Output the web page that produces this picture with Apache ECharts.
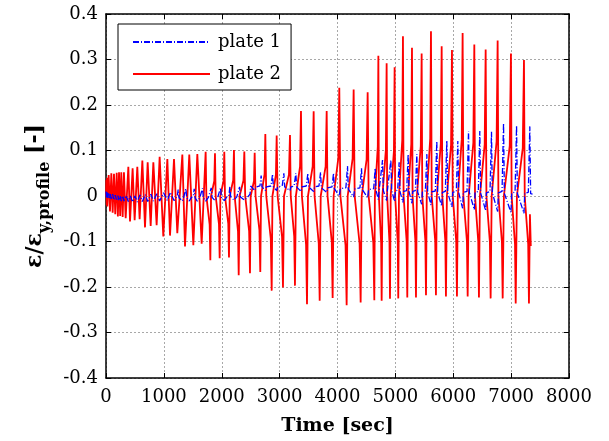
<!DOCTYPE html>
<html><head><meta charset="utf-8">
<script src="https://cdn.jsdelivr.net/npm/echarts@6/dist/echarts.min.js"></script>
<style>html,body{margin:0;padding:0;background:#fff}#c{width:609px;height:441px}</style>
</head><body><div id="c"></div>
<script>
const xTicks = [0,1000,2000,3000,4000,5000,6000,7000,8000];
const yTicks = [-0.4,-0.3,-0.2,-0.1,0,0.1,0.2,0.3,0.4];
const seriesNames = ['plate 1','plate 2'];

// plate 1 (blue, dash-dot): [time s, strain ratio]
const plate1 = [
[0,0.010],[10,-0.004],[20,0.008],[30,-0.006],[45,0.006],[60,-0.006],[75,0.004],[92,-0.008],[115,0.004],[138,-0.009],[160,0.002],[185,-0.010],[205,0.001],[225,-0.010],[245,0.0],[264,-0.011],[288,0.0],[310,-0.011],[345,0.001],[386,-0.012],[420,0.000],[460,-0.013],[500,0.000],[541,-0.013],[586,0.002],[628,-0.012],[679,0.003],[720,-0.012],[777,0.004],[818,-0.011],[880,0.005],[927,-0.011],[995,0.007],[1060,-0.010],[1111,0.008],[1175,-0.010],
[1232,0.000],[1247,0.014],[1262,-0.004],[1319,-0.011],[1340,-0.004],[1365,0.000],[1380,0.016],[1395,-0.004],[1439,-0.011],[1470,-0.004],[1509,0.000],[1524,0.016],[1539,-0.004],[1578,-0.011],[1620,-0.004],[1653,0.000],[1668,0.017],[1683,-0.004],[1722,-0.011],[1770,-0.003],[1803,0.000],[1818,0.018],[1833,-0.003],[1883,-0.010],[1930,-0.003],[1964,0.001],[1979,0.018],[1994,-0.003],[2044,-0.010],[2090,-0.002],[2125,0.002],[2140,0.020],[2155,-0.002],[2211,-0.009],[2260,-0.002],[2293,0.002],[2308,0.020],[2323,-0.002],[2390,-0.009],[2450,-0.002],[2488,0.004],[2500,0.022],[2515,0.018],[2569,0.012],[2600,0.020],
[2660,0.022],[2681,0.045],[2695,0.020],[2753,0.012],[2770,0.020],[2850,0.022],[2878,0.048],[2892,0.020],[2949,0.012],[2965,0.020],[3045,0.022],[3073,0.050],[3087,0.020],[3179,0.012],[3195,0.020],[3250,0.022],[3280,0.050],[3294,0.020],[3369,0.010],[3385,0.020],[3460,0.022],[3488,0.050],[3502,0.020],[3588,0.010],[3604,0.020],[3680,0.022],[3707,0.052],[3721,0.018],[3813,0.008],[3829,0.018],[3905,0.020],[3931,0.050],[3945,0.016],[4031,0.000],[4047,0.016],[4145,0.018],[4173,0.066],[4187,0.015],[4279,-0.002],[4295,0.015],[4388,0.018],[4415,0.061],[4429,0.014],[4521,-0.004],[4537,0.014],[4625,0.016],[4651,0.061],[4665,0.013],[4706,-0.008],[4720,0.013],[4752,0.015],[4778,0.079],[4792,0.012],[4849,-0.010],[4862,0.012],[4896,0.014],[4922,0.079],[4936,0.012],[4987,-0.012],[5000,0.011],[5040,0.013],[5065,0.074],[5079,0.010],[5131,-0.014],[5144,0.010],[5195,0.012],[5221,0.092],[5235,0.010],[5287,-0.016],[5300,0.010],[5345,0.012],[5371,0.092],[5385,0.009],[5454,-0.018],[5467,0.009],[5518,0.011],[5544,0.092],[5558,0.009],[5615,-0.020],[5628,0.009],[5690,0.011],[5716,0.121],[5730,0.008],[5800,-0.022],[5813,0.008],[5863,0.010],[5889,0.121],[5903,0.008],[5978,-0.024],[5991,0.008],[6053,0.010],[6079,0.121],[6093,0.008],[6162,-0.027],[6175,0.008],[6238,0.010],[6264,0.143],[6278,0.008],[6364,-0.030],[6377,0.008],[6433,0.010],[6459,0.143],[6473,0.007],[6560,-0.032],[6573,0.007],[6635,0.010],[6661,0.141],[6675,0.007],[6767,-0.034],[6780,0.007],[6843,0.010],[6869,0.160],[6883,0.006],[6997,-0.036],[7010,0.006],[7068,0.009],[7094,0.155],[7108,0.006],[7222,-0.038],[7235,0.006],[7297,0.008],[7323,0.153],[7337,0.005],[7370,0.004]
];

// plate 2 (red, solid): [time s, strain ratio]
const plate2 = [
[0,0.0],[5,0.035],[12,-0.020],[18,0.040],[23,-0.023],[46,0.046],[69,-0.034],[92,0.050],[115,-0.037],[138,0.049],[160,-0.040],[185,0.051],[205,-0.045],[225,0.052],[245,-0.044],[264,0.052],[288,-0.046],[310,0.052],[340,-0.049],[386,0.064],[415,-0.056],[460,0.061],[495,-0.053],[541,0.064],[581,-0.051],[628,0.078],[674,-0.069],[720,0.074],[772,-0.066],[818,0.074],[875,-0.064],[927,0.086],[990,-0.089],[1060,0.081],[1106,-0.087],[1175,0.081],[1232,-0.082],[1319,0.091],[1365,-0.111],[1439,0.091],[1509,-0.108],[1578,0.092],[1653,-0.105],
[1722,0.097],[1734,0],[1791,-0.063],[1803,-0.141],[1815,0],[1871,0.033],[1883,0.094],[1895,0],[1952,-0.062],[1964,-0.137],[1976,0],[2032,0.034],[2044,0.097],[2056,0],[2113,-0.061],[2125,-0.135],[2138,0],[2198,0.035],[2211,0.101],[2223,0],[2281,-0.078],[2293,-0.174],[2308,0],[2375,0.034],[2390,0.098],[2405,0],[2473,-0.077],[2488,-0.170],[2500,0],[2557,0.033],[2569,0.095],[2584,0],[2651,-0.075],[2666,-0.167],[2679,0],[2740,0.048],[2753,0.136],[2769,0],[2847,-0.094],[2863,-0.208],[2876,0],[2936,0.047],[2949,0.133],[2965,0],[3042,-0.090],[3058,-0.201],[3076,0],[3161,0.047],[3179,0.134],[3192,0],[3252,-0.089],[3265,-0.197],[3281,0],[3353,0.065],[3369,0.187],[3385,0],[3457,-0.107],[3473,-0.238],[3490,0],[3571,0.065],[3588,0.186],[3604,0],[3676,-0.104],[3692,-0.230],[3710,0],[3795,0.065],[3813,0.187],[3828,0],[3901,-0.101],[3916,-0.224],[3933,0],[4014,0.083],[4031,0.238],[4050,0],[4139,-0.108],[4158,-0.240],[4176,0],[4261,0.082],[4279,0.234],[4297,0],[4382,-0.105],[4400,-0.234],[4418,0],[4503,0.080],[4521,0.228],[4538,0],[4619,-0.103],[4636,-0.229],[4646,0],[4696,0.108],[4706,0.308],[4715,0],[4754,-0.104],[4763,-0.230],[4776,0],[4836,0.102],[4849,0.292],[4858,0],[4898,-0.102],[4907,-0.226],[4919,0],[4975,0.099],[4987,0.283],[4996,0],[5041,-0.101],[5050,-0.225],[5062,0],[5119,0.123],[5131,0.351],[5142,0],[5195,-0.100],[5206,-0.223],[5218,0],[5275,0.114],[5287,0.326],[5297,0],[5346,-0.100],[5356,-0.223],[5371,0],[5439,0.110],[5454,0.313],[5465,0],[5518,-0.098],[5529,-0.218],[5542,0],[5602,0.127],[5615,0.362],[5628,0],[5688,-0.098],[5701,-0.218],[5716,0],[5785,0.115],[5800,0.329],[5811,0],[5863,-0.099],[5874,-0.221],[5890,0],[5962,0.112],[5978,0.321],[5991,0],[6051,-0.099],[6064,-0.221],[6079,0],[6147,0.125],[6162,0.358],[6175,0],[6236,-0.099],[6249,-0.221],[6266,0],[6347,0.117],[6364,0.333],[6376,0],[6432,-0.100],[6444,-0.223],[6461,0],[6543,0.113],[6560,0.322],[6573,0],[6633,-0.101],[6646,-0.225],[6664,0],[6749,0.120],[6767,0.342],[6780,0],[6841,-0.101],[6854,-0.225],[6875,0],[6976,0.110],[6997,0.313],[7009,0],[7067,-0.106],[7079,-0.236],[7100,0],[7201,0.105],[7222,0.299],[7235,0],[7295,-0.106],[7308,-0.236],[7325,-0.04],[7340,-0.11]
];

const FONT = 'DejaVu Serif';
const chart = echarts.init(document.getElementById('c'), null, {renderer:'canvas'});
const fmtY = v => String(Number(v.toFixed(1)));
const fmtX = v => String(Math.round(v));
const axisCommon = {
  axisLine:{show:true, onZero:false, lineStyle:{color:'#000', width:1.5}},
  axisTick:{show:true, inside:true, length:5, lineStyle:{color:'#000', width:1}},
};
chart.setOption({
  animation:false,
  backgroundColor:'#fff',
  grid:{left:106, right:40, top:14, bottom:63, containLabel:false},
  legend:{
    show:true,
    left:118, top:24, orient:'vertical',
    data:seriesNames,
    itemWidth:77, itemHeight:14, itemGap:14,
    padding:[9,10,7,14],
    borderColor:'#000', borderWidth:1, backgroundColor:'#fff',
    itemStyle:{color:'rgba(0,0,0,0)', borderWidth:0, borderColor:'rgba(0,0,0,0)'},
    textStyle:{fontFamily:FONT, fontSize:18, color:'#000', padding:[0,0,0,3]}
  },
  xAxis:[
    Object.assign({type:'value', min:xTicks[0], max:xTicks[xTicks.length-1], interval:1000, position:'bottom',
      axisLabel:{fontFamily:FONT, fontSize:18, color:'#000', margin:10, formatter:fmtX},
      splitLine:{show:true, lineStyle:{color:'#a8a8a8', type:[2,2], width:1}},
      name:'Time [sec]', nameLocation:'middle', nameGap:39,
      nameTextStyle:{fontFamily:FONT, fontSize:19, fontWeight:'bold', color:'#000'}}, axisCommon),
    Object.assign({type:'value', min:xTicks[0], max:xTicks[xTicks.length-1], interval:1000, position:'top',
      axisLabel:{show:false}, splitLine:{show:false}}, axisCommon)
  ],
  yAxis:[
    Object.assign({type:'value', min:yTicks[0], max:yTicks[yTicks.length-1], interval:0.1, position:'left',
      axisLabel:{fontFamily:FONT, fontSize:18, color:'#000', margin:8, formatter:fmtY},
      splitLine:{show:true, lineStyle:{color:'#a8a8a8', type:[2,2], width:1}},
      name:'{a|ε/ε}{b|y,profile}{a| [-]}', nameLocation:'middle', nameGap:52, nameRotate:90,
      nameTextStyle:{
        rich:{
          a:{fontFamily:FONT, fontSize:22, fontWeight:'bold', color:'#000', lineHeight:26, verticalAlign:'top'},
          b:{fontFamily:FONT, fontSize:16, fontWeight:'bold', color:'#000', lineHeight:18, padding:[12,0,0,0], verticalAlign:'top'}
        }
      }}, axisCommon),
    Object.assign({type:'value', min:yTicks[0], max:yTicks[yTicks.length-1], interval:0.1, position:'right',
      axisLabel:{show:false}, splitLine:{show:false}}, axisCommon)
  ],
  series:[
    {name:seriesNames[0], type:'line', data:plate1, showSymbol:false, symbol:'none', z:4,
     lineStyle:{color:'#0000ff', width:1.3, type:[6,2,1,2]}, itemStyle:{color:'#0000ff'}},
    {name:seriesNames[1], type:'line', data:plate2, showSymbol:false, symbol:'none', z:3,
     lineStyle:{color:'#ff0000', width:1.8, type:'solid'}, itemStyle:{color:'#ff0000'}}
  ]
});
</script></body></html>
